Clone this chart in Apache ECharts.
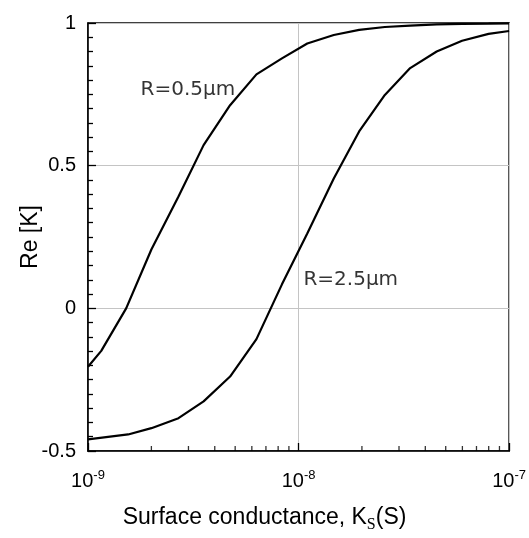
<!DOCTYPE html>
<html>
<head>
<meta charset="utf-8">
<script src="https://cdn.jsdelivr.net/npm/echarts@6/dist/echarts.min.js"></script>
<style>
html,body{margin:0;padding:0;background:#fff;}
#c{width:529px;height:538px;}
</style>
</head>
<body>
<div id="c"></div>
<script>
// Surface conductance (S)
const r05X = [1e-9, 1.156e-9, 1.518e-9, 2.0e-9, 2.69e-9, 3.54e-9, 4.73e-9, 6.31e-9, 8.34e-9, 1.10e-8, 1.47e-8, 1.94e-8, 2.57e-8, 3.39e-8, 4.53e-8, 5.98e-8, 7.99e-8, 1e-7];
const r05Y = [-0.205, -0.149, 0.0, 0.206, 0.392, 0.572, 0.712, 0.820, 0.876, 0.928, 0.958, 0.976, 0.986, 0.991, 0.995, 0.997, 0.998, 0.999];
const r25X = [1e-9, 1.551e-9, 2.0e-9, 2.69e-9, 3.54e-9, 4.73e-9, 6.31e-9, 8.34e-9, 1.10e-8, 1.47e-8, 1.94e-8, 2.57e-8, 3.39e-8, 4.53e-8, 5.98e-8, 7.99e-8, 1e-7];
const r25Y = [-0.459, -0.442, -0.420, -0.385, -0.326, -0.239, -0.108, 0.084, 0.262, 0.455, 0.620, 0.748, 0.842, 0.900, 0.938, 0.962, 0.972];
const seriesNames = ['R=0.5\u03bcm', 'R=2.5\u03bcm'];
const labelAnchors = [[2.98e-9, 0.766], [1.77e-8, 0.101]];
const minorMultipliers = [2, 3, 4, 5, 6, 7, 8, 9];
const decades = [1e-9, 1e-8];
const yTicks = [-0.5, 0, 0.5, 1];

const minorX = [];
decades.forEach(d => minorMultipliers.forEach(m => minorX.push([m * d, -0.5])));

const zip = (xs, ys) => xs.map((x, i) => [x, ys[i]]);

const chart = echarts.init(document.getElementById('c'), null, {renderer: 'canvas'});
const sans = '"Liberation Sans", Arial, Helvetica, sans-serif';
chart.setOption({
  animation: false,
  backgroundColor: '#fff',
  grid: {left: 88, right: 11, top: 23, bottom: 86, show: true, borderColor: '#000', borderWidth: 1.5, backgroundColor: 'transparent'},
  xAxis: {
    type: 'log', logBase: 10, min: 1e-9, max: 1e-7,
    name: '{n|Surface conductance, K}{sub|S}{n|(S)}',
    nameLocation: 'middle', nameGap: 52, nameMoveOverlap: false,
    nameTextStyle: {
      padding: [0, 68, 0, 0],
      rich: {
        n: {fontFamily: sans, fontSize: 23, color: '#000', lineHeight: 30},
        sub: {fontFamily: '"Liberation Serif", serif', fontSize: 16, color: '#000', lineHeight: 30, verticalAlign: 'bottom', padding: [8, 0, 0, 0]}
      }
    },
    axisLine: {show: true, onZero: false, lineStyle: {color: '#000', width: 1.5}},
    axisTick: {show: true, inside: true, length: 8, lineStyle: {color: '#000', width: 1.3}},
    minorTick: {show: false},
    splitLine: {show: true, lineStyle: {color: '#c4c4c4', width: 1}},
    axisLabel: {
      margin: 14,
      formatter: v => '{b|10}{s|' + Math.round(Math.log10(v)) + '}',
      rich: {
        b: {fontFamily: sans, fontSize: 20, color: '#000', lineHeight: 26, verticalAlign: 'bottom'},
        s: {fontFamily: sans, fontSize: 13, color: '#000', lineHeight: 26, verticalAlign: 'bottom', padding: [0, 0, 9, 0]}
      }
    }
  },
  yAxis: {
    type: 'value', min: yTicks[0], max: yTicks[yTicks.length - 1], interval: 0.5,
    name: 'Re [K]', nameLocation: 'middle', nameGap: 46, nameRotate: 90, nameMoveOverlap: false,
    nameTextStyle: {fontFamily: sans, fontSize: 23, color: '#000'},
    axisLine: {show: true, onZero: false, lineStyle: {color: '#000', width: 1.5}},
    axisTick: {show: true, inside: true, length: 8, lineStyle: {color: '#000', width: 1.3}},
    minorTick: {show: true, splitNumber: 10, length: 5, lineStyle: {color: '#000', width: 1.3}},
    splitLine: {show: true, lineStyle: {color: '#c4c4c4', width: 1}},
    axisLabel: {margin: 12, fontFamily: sans, fontSize: 20, color: '#000', formatter: v => String(v)}
  },
  series: [
    {type: 'line', name: seriesNames[0], data: zip(r05X, r05Y), showSymbol: false, symbol: 'none',
     lineStyle: {color: '#000', width: 2.2}, z: 5},
    {type: 'line', name: seriesNames[1], data: zip(r25X, r25Y), showSymbol: false, symbol: 'none',
     lineStyle: {color: '#000', width: 2.2}, z: 5},
    {type: 'scatter', data: minorX, symbol: 'rect', symbolSize: [1.3, 5], symbolOffset: [0, -2.5],
     itemStyle: {color: '#000'}, clip: false, silent: true, z: 6},
    {type: 'scatter', symbolSize: 0, clip: false, silent: true, z: 7,
     data: labelAnchors.map((p, i) => ({value: p, label: {formatter: seriesNames[i]}})),
     label: {show: true, position: 'inside', fontFamily: '"DejaVu Sans", sans-serif', fontSize: 20, color: '#000'}}
  ]
});
</script>
</body>
</html>
